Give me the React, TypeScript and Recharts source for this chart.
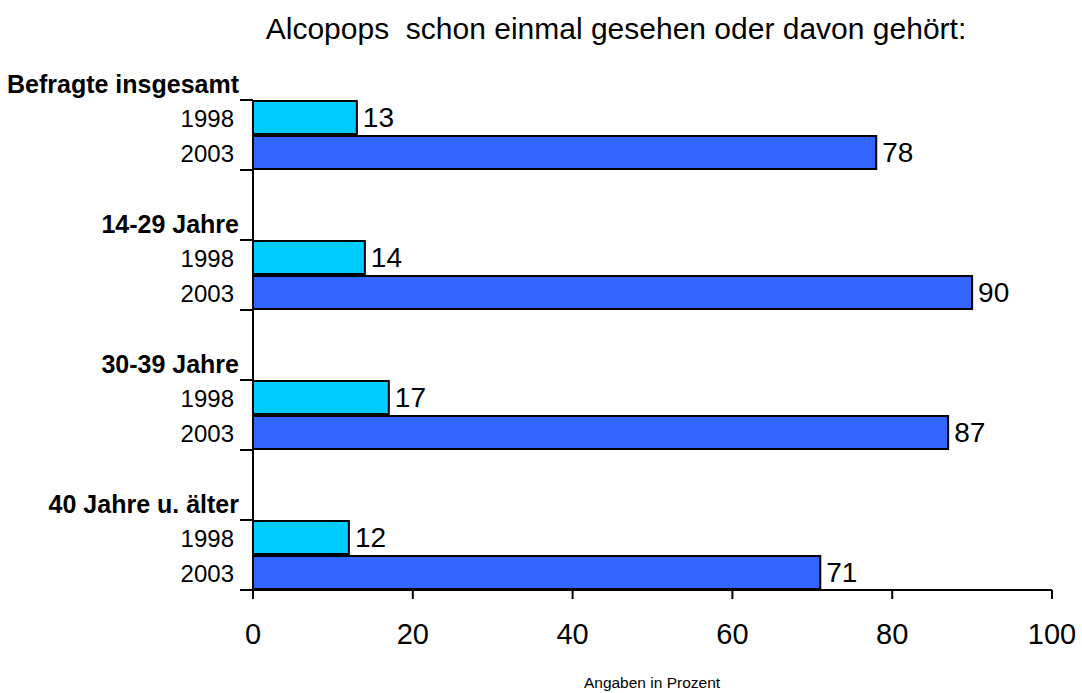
import React from 'react';
import { BarChart, Bar, XAxis, YAxis, Cell, LabelList } from 'recharts';

const GROUPS = ['Befragte insgesamt', '14-29 Jahre', '30-39 Jahre', '40 Jahre u. älter'];
const YEARS = ['1998', '2003'];
const VALUES_1998 = [13, 14, 17, 12];
const VALUES_2003 = [78, 90, 87, 71];
const X_TICKS = [0, 20, 40, 60, 80, 100];
const COLORS: Record<string, string> = { '1998': '#00CCFF', '2003': '#3366FF' };

type Row = { key: string; year: string; group: string; value: number | null; first: boolean };

// two bar rows per group, two empty rows between groups
const rows: Row[] = [];
GROUPS.forEach((g, i) => {
  if (i > 0) {
    rows.push({ key: `gap${i}a`, year: '', group: '', value: null, first: false });
    rows.push({ key: `gap${i}b`, year: '', group: '', value: null, first: false });
  }
  rows.push({ key: `${g}-1998`, year: YEARS[0], group: g, value: VALUES_1998[i], first: true });
  rows.push({ key: `${g}-2003`, year: YEARS[1], group: g, value: VALUES_2003[i], first: false });
});
const byKey = new Map(rows.map((r) => [r.key, r]));

const FONT = 'Arial, "Liberation Sans", Helvetica, sans-serif';

function YTick(props: any) {
  const { x, y, payload } = props;
  const row = byKey.get(payload.value);
  if (!row || !row.year) return null;
  const half = 17.5;
  const edge = row.first ? y - half : y + half;
  return (
    <g>
      <line x1={x - 13} x2={x} y1={edge} y2={edge} stroke="#000" strokeWidth={2} />
      <text x={x - 19} y={y} dy={9} textAnchor="end" fontSize={24} fill="#000" fontFamily={FONT}>
        {row.year}
      </text>
      {row.first && (
        <text x={x - 14} y={y - half - 7} textAnchor="end" fontSize={25} fontWeight="bold" fill="#000" fontFamily={FONT}>
          {row.group}
        </text>
      )}
    </g>
  );
}

export default function App() {
  return (
    <div style={{ position: 'absolute', left: 0, top: 0, width: 1082, height: 693, background: '#fff', fontFamily: FONT }}>
      <div style={{ position: 'absolute', left: 0, width: 1232, top: 12, textAlign: 'center', fontSize: 30, color: '#000', whiteSpace: 'pre' }}>
        {'Alcopops  schon einmal gesehen oder davon gehört:'}
      </div>
      <BarChart
        width={1082}
        height={693}
        layout="vertical"
        data={rows}
        margin={{ top: 100, right: 30, bottom: 43, left: 0 }}
        barCategoryGap={1}
      >
        <XAxis
          type="number"
          domain={[0, 100]}
          ticks={X_TICKS}
          height={60}
          axisLine={{ stroke: '#000', strokeWidth: 2 }}
          tickLine={{ stroke: '#000', strokeWidth: 2 }}
          tickSize={9}
          tickMargin={24}
          tick={{ fontSize: 29, fill: '#000', fontFamily: FONT }}
        />
        <YAxis
          type="category"
          dataKey="key"
          width={253}
          axisLine={{ stroke: '#000', strokeWidth: 2 }}
          tickLine={false}
          tickSize={0}
          tickMargin={0}
          interval={0}
          tick={<YTick />}
        />
        <Bar dataKey="value" barSize={33} stroke="#000" strokeWidth={2} isAnimationActive={false}>
          {rows.map((r) => (
            <Cell key={r.key} fill={COLORS[r.year] || 'none'} />
          ))}
          <LabelList
            dataKey="value"
            position="right"
            offset={6}
            fill="#000"
            fontSize={28}
            fontFamily={FONT}
            formatter={(v: any) => (v == null ? '' : v)}
          />
        </Bar>
      </BarChart>
      <div style={{ position: 'absolute', left: 552, width: 200, top: 674, textAlign: 'center', fontSize: 15.5, color: '#000' }}>
        Angaben in Prozent
      </div>
    </div>
  );
}
